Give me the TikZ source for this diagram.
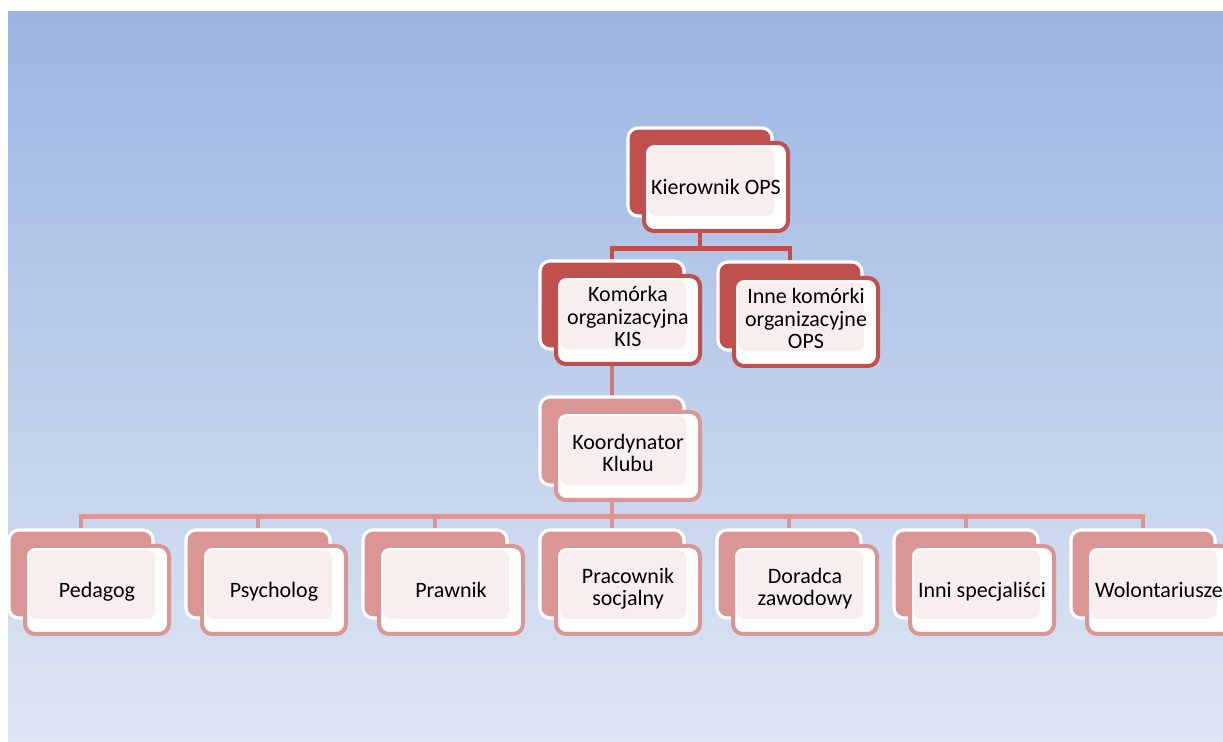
\documentclass[tikz,border=0pt]{standalone}
\usepackage{fontspec}
\setmainfont{Carlito}
\usetikzlibrary{calc}

\pgfdeclarelayer{bg}
\pgfdeclarelayer{lines}
\pgfsetlayers{bg,lines,main}

\definecolor{skytop}{HTML}{9BB5E2}
\definecolor{skybottom}{HTML}{DEE6F4}
\definecolor{darkred}{HTML}{C0504D}
\definecolor{palered}{HTML}{D99694}
\definecolor{midred}{HTML}{CE7A78}
\definecolor{frontpink}{HTML}{F8EEEE}

\tikzset{
  backbox/.style={draw=white, line width=1.6pt, rounded corners=5pt,
    minimum width=72pt, minimum height=44pt, fill=#1},
  frontbox/.style={draw=#1, line width=2pt, rounded corners=5pt,
    minimum width=72pt, minimum height=44pt, fill=white, align=center,
    font=\fontsize{11}{11.25}\selectfont,
    execute at begin node={\rule{0pt}{\dimexpr\ht\strutbox+3.5pt\relax}},
    execute at end node=\strut,
    path picture={\fill[frontpink, rounded corners=4pt]
      ($(path picture bounding box.south west)+(2pt,7.5pt)$) rectangle
      ($(path picture bounding box.north east)+(-7pt,-2pt)$);}},
  link/.style={draw=#1, line width=2.2pt},
}

\begin{document}
\begin{tikzpicture}[x=0.5pt, y=-0.5pt]

        \useasboundingbox (0,0) rectangle (1223,742);
        \clip (0,0) rectangle (1223,742);

        % Sky background
        \begin{pgfonlayer}{bg}
        \shade[top color=skytop, bottom color=skybottom] (8,12) rectangle (1223,742);
        \end{pgfonlayer}

        % Top: head of the centre
        \node[backbox=darkred] (kier) at (700,172) {};
        \node[frontbox=darkred] (kier-f) at (716,187) {Kierownik OPS};

        % Second level
        \node[backbox=darkred] (kis) at (612,305) {};
        \node[frontbox=darkred] (kis-f) at (628,320) {Komórka\\organizacyjna\\KIS};

        \node[backbox=darkred] (inne) at (790,306) {};
        \node[frontbox=darkred] (inne-f) at (806,322) {Inne komórki\\organizacyjne\\OPS};

        % Third level
        \node[backbox=palered] (koord) at (612,441) {};
        \node[frontbox=palered] (koord-f) at (628,456) {Koordynator\\Klubu};

        % Bottom row: the club staff
        \node[backbox=palered] (ped) at (81,574) {};
        \node[frontbox=palered] (ped-f) at (97,590) {Pedagog};

        \node[backbox=palered] (psy) at (258,574) {};
        \node[frontbox=palered] (psy-f) at (274,590) {Psycholog};

        \node[backbox=palered] (praw) at (435,574) {};
        \node[frontbox=palered] (praw-f) at (451,590) {Prawnik};

        \node[backbox=palered] (socj) at (612,574) {};
        \node[frontbox=palered] (socj-f) at (628,590) {Pracownik\\socjalny};

        \node[backbox=palered] (dor) at (789,574) {};
        \node[frontbox=palered] (dor-f) at (805,590) {Doradca\\zawodowy};

        \node[backbox=palered] (spec) at (966,574) {};
        \node[frontbox=palered] (spec-f) at (982,590) {Inni specjaliści};

        \node[backbox=palered] (wol) at (1143,574) {};
        \node[frontbox=palered] (wol-f) at (1159,590) {Wolontariusze};

        % Connectors, behind the boxes
        \begin{pgfonlayer}{lines}
        \draw[link=darkred] (kier.south) -- ++(0,31) -| (kis.north);
        \draw[link=darkred] (kier.south) -- ++(0,31) -| (inne.north);
        \draw[link=midred] (kis.south) -- (koord.north);
        \draw[link=palered] (koord.south) -- ++(0,30) -| (ped.north);
        \draw[link=palered] (koord.south) -- ++(0,30) -| (psy.north);
        \draw[link=palered] (koord.south) -- ++(0,30) -| (praw.north);
        \draw[link=palered] (koord.south) -- ++(0,30) -| (socj.north);
        \draw[link=palered] (koord.south) -- ++(0,30) -| (dor.north);
        \draw[link=palered] (koord.south) -- ++(0,30) -| (spec.north);
        \draw[link=palered] (koord.south) -- ++(0,30) -| (wol.north);
        \end{pgfonlayer}

\end{tikzpicture}
\end{document}
